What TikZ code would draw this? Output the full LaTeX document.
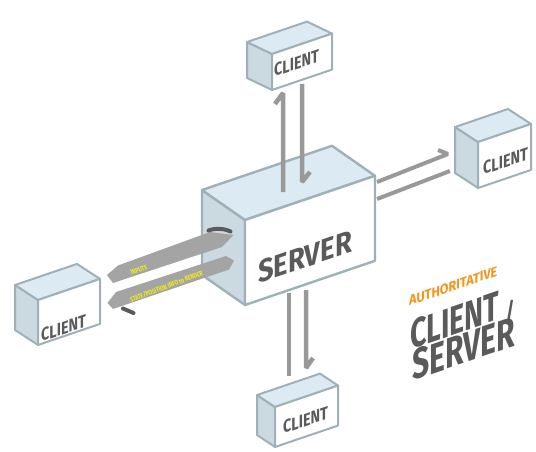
\documentclass[tikz,border=0pt]{standalone}
\usepackage{fontspec}
\setmainfont{Fira Sans}
\newfontfamily\fsrv[FakeStretch=0.87]{Fira Sans}
\newfontfamily\fcli[FakeStretch=0.8]{Fira Sans}
\newfontfamily\frib[FakeStretch=0.74]{Fira Sans}
\newfontfamily\fttl[FakeStretch=0.7]{Fira Sans}
\newfontfamily\faut[FakeStretch=0.9]{Fira Sans}
\definecolor{edgec}{HTML}{9FB1B7}
\definecolor{topc}{HTML}{DCEAF3}
\definecolor{sidec}{HTML}{CBD9E1}
\definecolor{barc}{HTML}{999999}
\definecolor{ribc}{HTML}{A4A4A4}
\definecolor{darkc}{HTML}{5A5A5A}
\definecolor{txtc}{HTML}{5A5A5A}
\definecolor{yelc}{HTML}{F2EE10}
\definecolor{orgc}{HTML}{F7941D}
\tikzset{
  pics/cube/.style n args={5}{code={
    \path[fill=sidec,draw=edgec,line width=#5,line join=round]
      (0,0) -- (0,{#2}) -- ({#3},{#2+(#4)}) -- ({#3},{#4}) -- cycle;
    \path[fill=topc,draw=edgec,line width=#5,line join=round]
      (0,0) -- ({#1},{-0.34*#1}) -- ({#1+(#3)},{-0.34*#1+(#4)}) -- ({#3},{#4}) -- cycle;
    \path[fill=white,draw=edgec,line width=#5,line join=round]
      (0,0) -- ({#1},{-0.34*#1}) -- ({#1},{#2-0.34*#1}) -- (0,{#2}) -- cycle;
  }},
  bar/.style={draw=barc,line width=4.5pt,line join=bevel},
  thinbar/.style={draw=barc,line width=4pt,line join=bevel},
  lbl/.style={inner sep=0pt,yslant=0.34,transform shape,text=txtc,font=\bfseries,anchor=base west},
  ribtxt/.style={inner sep=0pt,text=yelc,anchor=base west,font=\frib\bfseries\fontsize{7}{7}\selectfont},
  ribbon/.style={fill=ribc,draw=none},
  barb/.style={draw=darkc,line width=4pt,line cap=round},
}
\begin{document}
\begin{tikzpicture}[x=1pt,y=-1pt]
\useasboundingbox (0,0) rectangle (536,452);
% bottom connectors (behind server)
\coordinate (bL1) at (289,293); \coordinate (bL2) at (289,376);
\coordinate (bR1) at (306,290); \coordinate (bR2) at (306,368);
\draw[bar] (bL1) -- (bL2);
\draw[bar] (bR1) -- (bR2) -- ++(7,-10);
% server
\pic (server) at (245,220) {cube={130}{85}{-43}{-30}{2.4pt}};
% top connectors
\coordinate (tL1) at (283,192); \coordinate (tL2) at (283,93);
\coordinate (tR1) at (302,84); \coordinate (tR2) at (302,182);
\draw[bar] (tL1) -- (tL2) -- ++(-8,11);
\draw[bar] (tR1) -- (tR2) -- ++(8,-10);
% right connectors
\coordinate (rU1) at (377,182); \coordinate (rU2) at (448,154);
\coordinate (rD1) at (377,199); \coordinate (rD2) at (450,171);
\draw[thinbar] (rU1) -- (rU2) -- ++(-10,-4);
\draw[thinbar] (rD1) -- (rD2);
% clients
\pic (ctop) at (272,54) {cube={60}{36}{-25}{-12}{2pt}};
\pic (cleft) at (38,300) {cube={62}{45}{-23}{-15}{2pt}};
\pic (cright) at (478,142) {cube={53}{46}{-23}{-15}{2pt}};
\pic (cbot) at (275,407) {cube={63}{40}{-18}{-12}{2pt}};
% labels
\node[lbl] (srvlbl) at (258,284) {\fsrv\fontsize{31.5}{31.5}\selectfont SERVER};
\node[lbl] (lt) at (274,77) {\fcli\fontsize{18}{18}\selectfont CLIENT};
\node[lbl] (ll) at (41,342) {\fcli\fontsize{18}{18}\selectfont CLIENT};
\node[lbl] (lr) at (483,175) {\fcli\fontsize{18}{18}\selectfont CLIENT};
\node[lbl] (lb) at (283,434) {\fcli\fontsize{18}{18}\selectfont CLIENT};
% ribbons
\path[ribbon] (107,275) -- (118,265.5) -- (210,232) -- (233.5,235) -- (222,247) -- (113,283) -- cycle;
\path[ribbon] (107.5,303) -- (116,292) -- (226,256) -- (234,260.5) -- (229,269.5) -- (113,309) -- cycle;
\draw[barb] (208.5,230.5) .. controls (215,228) and (224,228.3) .. (230.5,231.5);
\draw[barb] (123,308.5) -- (133.5,313);
\node[ribtxt,rotate=20] (inp) at (131.5,275) {INPUTS};
\node[ribtxt,rotate=20.5] (st) at (131,302.5) {STATE/POSITION INFO to RENDER};
% title
\node[lbl,text=orgc] (auth) at (409,306) {\faut\fontsize{14}{14}\selectfont AUTHORITATIVE};
\node[lbl,text=txtc] (tcl) at (410,350) {\fttl\fontsize{41}{41}\selectfont CLIENT};
\node[lbl,text=txtc] (tsl) at (505,324) {\fttl\fontsize{26}{26}\selectfont /};
\node[lbl,text=txtc] (tsv) at (412,381) {\fttl\fontsize{43}{43}\selectfont SERVER};
\end{tikzpicture}
\end{document}
